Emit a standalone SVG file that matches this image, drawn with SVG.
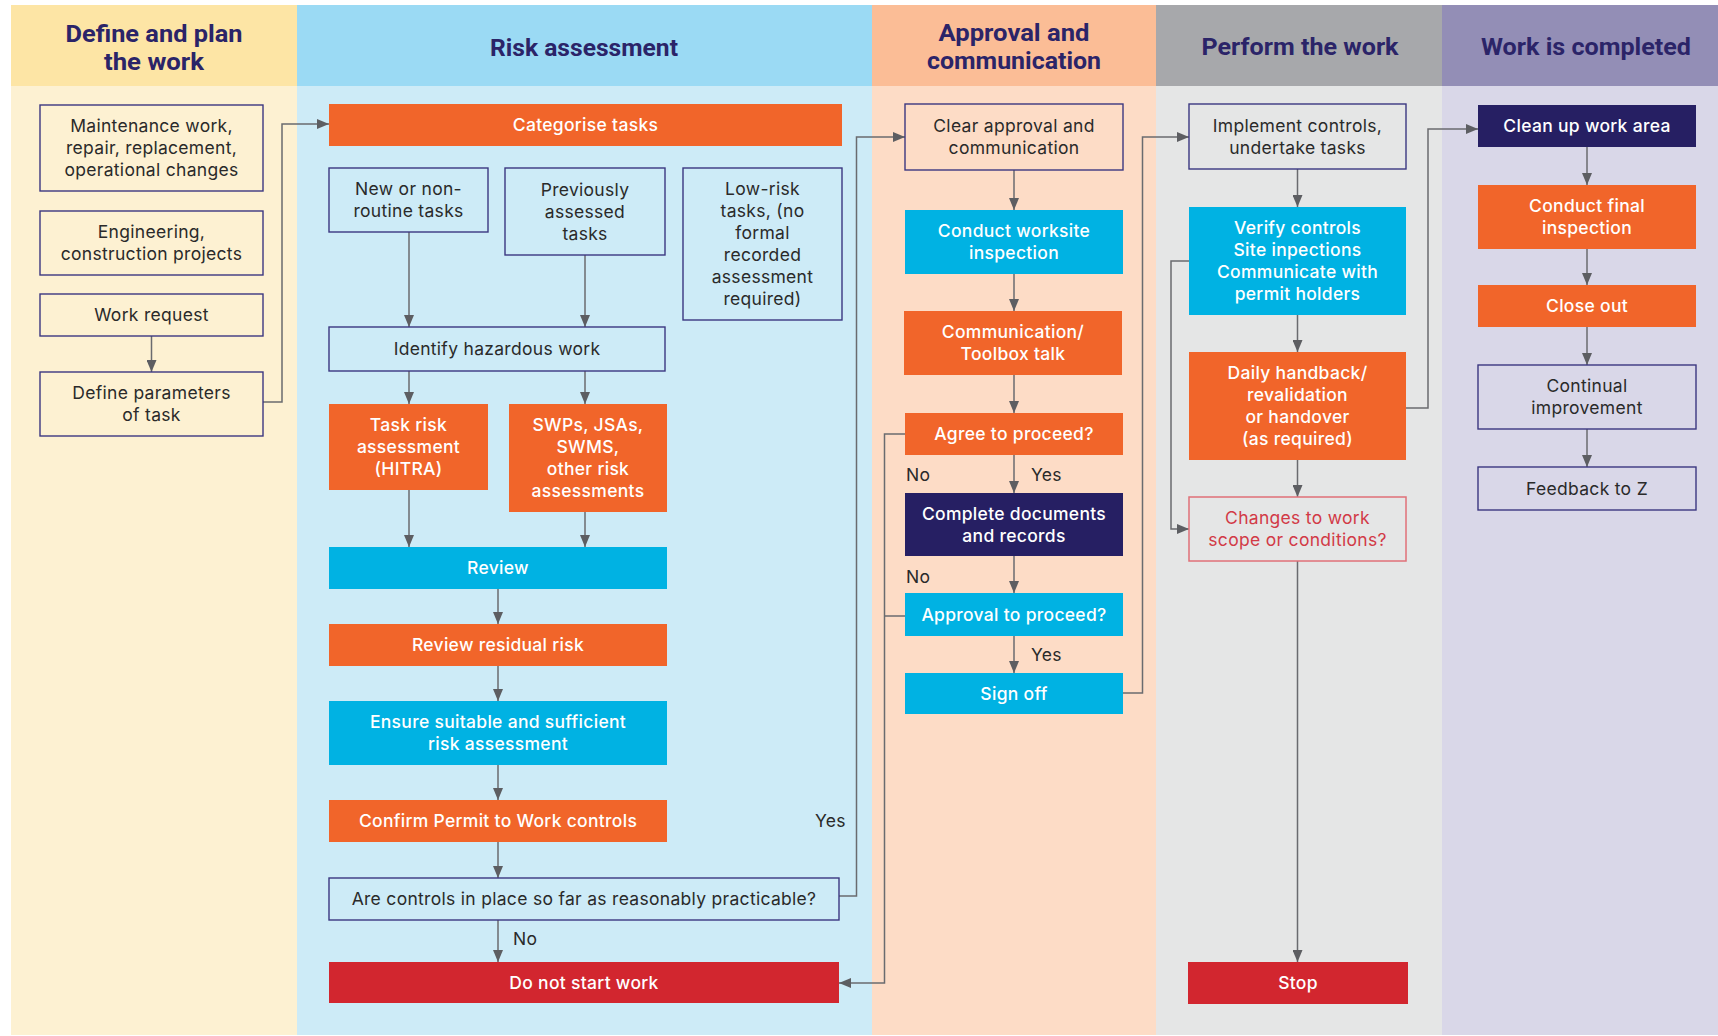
<svg xmlns="http://www.w3.org/2000/svg" width="1718" height="1036" viewBox="0 0 1718 1036">
<defs>
<style>
.hd{font-family:Roboto,"Liberation Sans",sans-serif;font-weight:700;font-size:23.5px;fill:#2b2468;text-anchor:middle}
.t{font-family:Inter,"Liberation Sans",sans-serif;font-size:17.5px;letter-spacing:0.3px;fill:#2a2a2a;text-anchor:middle}
.w{font-family:Inter,"Liberation Sans",sans-serif;font-size:17.5px;letter-spacing:0.3px;font-weight:500;fill:#ffffff;text-anchor:middle}
.lbl{font-family:Inter,"Liberation Sans",sans-serif;font-size:17.5px;letter-spacing:0.3px;fill:#2a2a2a}
.red{fill:#d23a46}
.ob{stroke:#3b3780;stroke-width:1.4}
.or{fill:#f1652a}
.bl{fill:#00b2e3}
.nv{fill:#261f63}
.rd{fill:#d2262f}
.cn{fill:none;stroke:#6a6b6f;stroke-width:1.5}
</style>
<marker id="ah" markerUnits="userSpaceOnUse" markerWidth="12" markerHeight="10" refX="12" refY="5" orient="auto">
<path d="M0,0 L12,5 L0,10 z" fill="#5d5e62"/>
</marker>
</defs>
<rect width="1718" height="1036" fill="#ffffff"/>
<g id="lanes">
<rect x="11" y="86" width="286" height="949" fill="#fdf1d2"/>
<rect x="11" y="5" width="286" height="81" fill="#fde5a5"/>
<rect x="297" y="86" width="575" height="949" fill="#cdebf7"/>
<rect x="297" y="5" width="575" height="81" fill="#9bdaf4"/>
<rect x="872" y="86" width="284" height="949" fill="#fddcc6"/>
<rect x="872" y="5" width="284" height="81" fill="#fbbd96"/>
<rect x="1156" y="86" width="286" height="949" fill="#e5e6e6"/>
<rect x="1156" y="5" width="286" height="81" fill="#a7a8ab"/>
<rect x="1442" y="86" width="276" height="949" fill="#d9d7e8"/>
<rect x="1442" y="5" width="276" height="81" fill="#938eb6"/>
<text class="hd" x="154" y="42" textLength="177" lengthAdjust="spacingAndGlyphs">Define and plan</text>
<text class="hd" x="154" y="69.5" textLength="100" lengthAdjust="spacingAndGlyphs">the work</text>
<text class="hd" x="584" y="55.5" textLength="188" lengthAdjust="spacingAndGlyphs">Risk assessment</text>
<text class="hd" x="1014" y="41" textLength="151" lengthAdjust="spacingAndGlyphs">Approval and</text>
<text class="hd" x="1014" y="69" textLength="174" lengthAdjust="spacingAndGlyphs">communication</text>
<text class="hd" x="1300" y="55" textLength="197" lengthAdjust="spacingAndGlyphs">Perform the work</text>
<text class="hd" x="1586" y="55" textLength="210" lengthAdjust="spacingAndGlyphs">Work is completed</text>
</g>
<g id="connectors">
<path class="cn" d="M151.5,336 V372" marker-end="url(#ah)"/>
<path class="cn" d="M263,402 H282 V124 H329" marker-end="url(#ah)"/>
<path class="cn" d="M409,232 V327" marker-end="url(#ah)"/>
<path class="cn" d="M585,255 V327" marker-end="url(#ah)"/>
<path class="cn" d="M409,371 V404" marker-end="url(#ah)"/>
<path class="cn" d="M585,371 V404" marker-end="url(#ah)"/>
<path class="cn" d="M409,490 V547" marker-end="url(#ah)"/>
<path class="cn" d="M585,512 V547" marker-end="url(#ah)"/>
<path class="cn" d="M498,589 V624" marker-end="url(#ah)"/>
<path class="cn" d="M498,666 V701" marker-end="url(#ah)"/>
<path class="cn" d="M498,765 V800" marker-end="url(#ah)"/>
<path class="cn" d="M498,842 V878" marker-end="url(#ah)"/>
<path class="cn" d="M498,920 V962" marker-end="url(#ah)"/>
<path class="cn" d="M839,896 H856.5 V137 H905" marker-end="url(#ah)"/>
<path class="cn" d="M1014,170 V210" marker-end="url(#ah)"/>
<path class="cn" d="M1014,274 V311" marker-end="url(#ah)"/>
<path class="cn" d="M1014,375 V413" marker-end="url(#ah)"/>
<path class="cn" d="M1014,455 V493" marker-end="url(#ah)"/>
<path class="cn" d="M905,434 H884.5 V983 H839" marker-end="url(#ah)"/>
<path class="cn" d="M1014,556 V593" marker-end="url(#ah)"/>
<path class="cn" d="M905,616 H884.5"/>
<path class="cn" d="M1014,636 V673" marker-end="url(#ah)"/>
<path class="cn" d="M1123,693 H1142.5 V137 H1189" marker-end="url(#ah)"/>
<path class="cn" d="M1297.5,169 V207" marker-end="url(#ah)"/>
<path class="cn" d="M1297.5,315 V352" marker-end="url(#ah)"/>
<path class="cn" d="M1297.5,460 V497" marker-end="url(#ah)"/>
<path class="cn" d="M1189,261 H1171 V529 H1189" marker-end="url(#ah)"/>
<path class="cn" d="M1297.5,561 V962" marker-end="url(#ah)"/>
<path class="cn" d="M1406,408 H1428 V129 H1478" marker-end="url(#ah)"/>
<path class="cn" d="M1587,147 V185" marker-end="url(#ah)"/>
<path class="cn" d="M1587,249 V285" marker-end="url(#ah)"/>
<path class="cn" d="M1587,327 V365" marker-end="url(#ah)"/>
<path class="cn" d="M1587,429 V467" marker-end="url(#ah)"/>
<text class="lbl" x="513" y="945">No</text>
<text class="lbl" x="815" y="827">Yes</text>
<text class="lbl" x="906" y="481">No</text>
<text class="lbl" x="1031" y="481">Yes</text>
<text class="lbl" x="906" y="583">No</text>
<text class="lbl" x="1031" y="661">Yes</text>
</g>
<g id="maint"><rect class="ob" x="40" y="105" width="223" height="86" fill="#fdf1d2"/><text class="t" x="151.5" y="132">Maintenance work,</text><text class="t" x="151.5" y="154">repair, replacement,</text><text class="t" x="151.5" y="176">operational changes</text></g>
<g id="eng"><rect class="ob" x="40" y="211" width="223" height="64" fill="#fdf1d2"/><text class="t" x="151.5" y="238">Engineering,</text><text class="t" x="151.5" y="260">construction projects</text></g>
<g id="wreq"><rect class="ob" x="40" y="294" width="223" height="42" fill="#fdf1d2"/><text class="t" x="151.5" y="321">Work request</text></g>
<g id="defparam"><rect class="ob" x="40" y="372" width="223" height="64" fill="#fdf1d2"/><text class="t" x="151.5" y="399">Define parameters</text><text class="t" x="151.5" y="421">of task</text></g>
<g id="categorise"><rect class="or" x="329" y="104" width="513" height="42"/><text class="w" x="585.5" y="131">Categorise tasks</text></g>
<g id="newtasks"><rect class="ob" x="329" y="168" width="159" height="64" fill="#cdebf7"/><text class="t" x="408.5" y="195">New or non-</text><text class="t" x="408.5" y="217">routine tasks</text></g>
<g id="prevtasks"><rect class="ob" x="505" y="168" width="160" height="87" fill="#cdebf7"/><text class="t" x="585" y="195.5">Previously</text><text class="t" x="585" y="217.5">assessed</text><text class="t" x="585" y="239.5">tasks</text></g>
<g id="lowrisk"><rect class="ob" x="683" y="168" width="159" height="152" fill="#cdebf7"/><text class="t" x="762.5" y="195">Low-risk</text><text class="t" x="762.5" y="217">tasks, (no</text><text class="t" x="762.5" y="239">formal</text><text class="t" x="762.5" y="261">recorded</text><text class="t" x="762.5" y="283">assessment</text><text class="t" x="762.5" y="305">required)</text></g>
<g id="identify"><rect class="ob" x="329" y="327" width="336" height="44" fill="#cdebf7"/><text class="t" x="497" y="355">Identify hazardous work</text></g>
<g id="taskrisk"><rect class="or" x="329" y="404" width="159" height="86"/><text class="w" x="408.5" y="431">Task risk</text><text class="w" x="408.5" y="453">assessment</text><text class="w" x="408.5" y="475">(HITRA)</text></g>
<g id="swps"><rect class="or" x="509" y="404" width="158" height="108"/><text class="w" x="588" y="431">SWPs, JSAs,</text><text class="w" x="588" y="453">SWMS,</text><text class="w" x="588" y="475">other risk</text><text class="w" x="588" y="497">assessments</text></g>
<g id="review"><rect class="bl" x="329" y="547" width="338" height="42"/><text class="w" x="498" y="574">Review</text></g>
<g id="residual"><rect class="or" x="329" y="624" width="338" height="42"/><text class="w" x="498" y="651">Review residual risk</text></g>
<g id="ensure"><rect class="bl" x="329" y="701" width="338" height="64"/><text class="w" x="498" y="728">Ensure suitable and sufficient</text><text class="w" x="498" y="750">risk assessment</text></g>
<g id="confirm"><rect class="or" x="329" y="800" width="338" height="42"/><text class="w" x="498" y="827">Confirm Permit to Work controls</text></g>
<g id="arecontrols"><rect class="ob" x="329" y="878" width="510" height="42" fill="#cdebf7"/><text class="t" x="584" y="905">Are controls in place so far as reasonably practicable?</text></g>
<g id="donotstart"><rect class="rd" x="329" y="962" width="510" height="41"/><text class="w" x="584" y="988.5">Do not start work</text></g>
<g id="clear"><rect class="ob" x="905" y="104" width="218" height="66" fill="#fddcc6"/><text class="t" x="1014" y="132">Clear approval and</text><text class="t" x="1014" y="154">communication</text></g>
<g id="worksite"><rect class="bl" x="905" y="210" width="218" height="64"/><text class="w" x="1014" y="237">Conduct worksite</text><text class="w" x="1014" y="259">inspection</text></g>
<g id="toolbox"><rect class="or" x="904" y="311" width="218" height="64"/><text class="w" x="1013" y="338">Communication/</text><text class="w" x="1013" y="360">Toolbox talk</text></g>
<g id="agree"><rect class="or" x="905" y="413" width="218" height="42"/><text class="w" x="1014" y="440">Agree to proceed?</text></g>
<g id="complete"><rect class="nv" x="905" y="493" width="218" height="63"/><text class="w" x="1014" y="519.5">Complete documents</text><text class="w" x="1014" y="541.5">and records</text></g>
<g id="approval"><rect class="bl" x="905" y="593" width="218" height="43"/><text class="w" x="1014" y="620.5">Approval to proceed?</text></g>
<g id="signoff"><rect class="bl" x="905" y="673" width="218" height="41"/><text class="w" x="1014" y="699.5">Sign off</text></g>
<g id="implement"><rect class="ob" x="1189" y="104" width="217" height="65" fill="#e5e6e6"/><text class="t" x="1297.5" y="131.5">Implement controls,</text><text class="t" x="1297.5" y="153.5">undertake tasks</text></g>
<g id="verify"><rect class="bl" x="1189" y="207" width="217" height="108"/><text class="w" x="1297.5" y="234">Verify controls</text><text class="w" x="1297.5" y="256">Site inpections</text><text class="w" x="1297.5" y="278">Communicate with</text><text class="w" x="1297.5" y="300">permit holders</text></g>
<g id="daily"><rect class="or" x="1189" y="352" width="217" height="108"/><text class="w" x="1297.5" y="379">Daily handback/</text><text class="w" x="1297.5" y="401">revalidation</text><text class="w" x="1297.5" y="423">or handover</text><text class="w" x="1297.5" y="445">(as required)</text></g>
<g id="changes"><rect x="1189" y="497" width="217" height="64" fill="#e5e6e6" stroke="#e07078" stroke-width="1.5"/><text class="t red" x="1297.5" y="524">Changes to work</text><text class="t red" x="1297.5" y="546">scope or conditions?</text></g>
<g id="stop"><rect class="rd" x="1188" y="962" width="220" height="42"/><text class="w" x="1298" y="989">Stop</text></g>
<g id="cleanup"><rect class="nv" x="1478" y="105" width="218" height="42"/><text class="w" x="1587" y="132">Clean up work area</text></g>
<g id="final"><rect class="or" x="1478" y="185" width="218" height="64"/><text class="w" x="1587" y="212">Conduct final</text><text class="w" x="1587" y="234">inspection</text></g>
<g id="closeout"><rect class="or" x="1478" y="285" width="218" height="42"/><text class="w" x="1587" y="312">Close out</text></g>
<g id="continual"><rect class="ob" x="1478" y="365" width="218" height="64" fill="#d9d7e8"/><text class="t" x="1587" y="392">Continual</text><text class="t" x="1587" y="414">improvement</text></g>
<g id="feedback"><rect class="ob" x="1478" y="467" width="218" height="43" fill="#d9d7e8"/><text class="t" x="1587" y="494.5">Feedback to Z</text></g>
</svg>
